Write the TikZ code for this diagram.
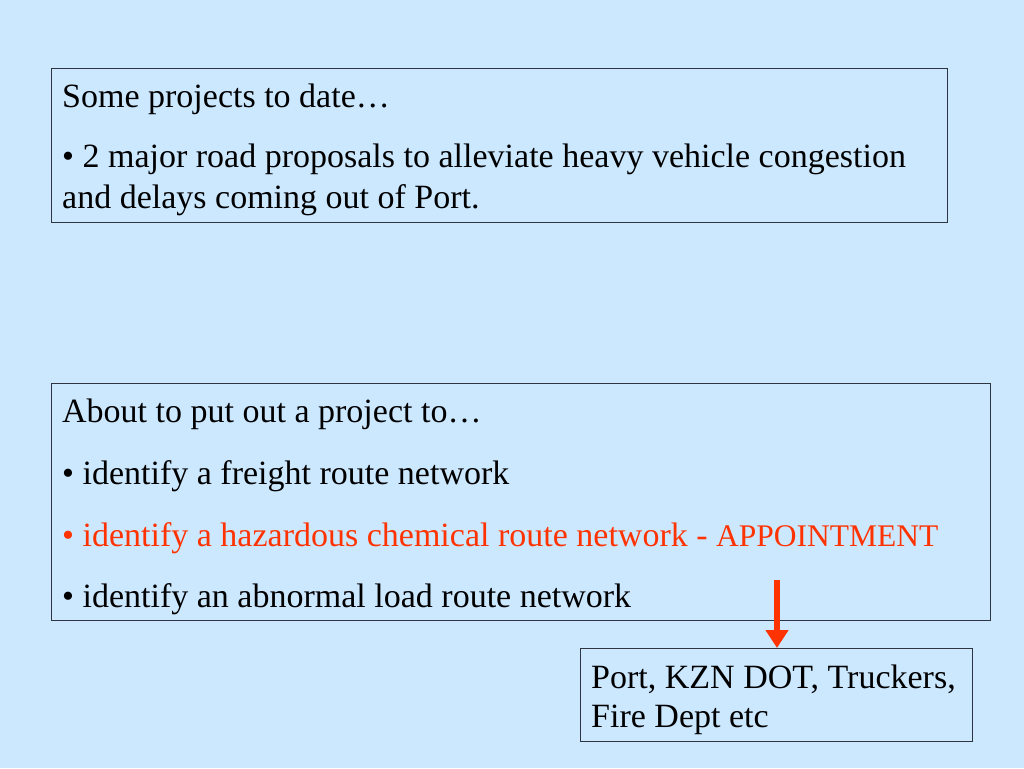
\documentclass[tikz,border=0pt]{standalone}
\usepackage{fontspec}
\setmainfont{Liberation Serif}
\usetikzlibrary{arrows.meta}
\definecolor{bg}{HTML}{CCE8FF}
\definecolor{boxline}{HTML}{2E3440}
\definecolor{hot}{HTML}{FF3300}
\begin{document}
\begin{tikzpicture}[x=1pt,y=-1pt,
  panel/.style={draw=boxline,line width=1pt,fill=none,inner sep=0pt,anchor=north west},
  txt/.style={anchor=base west,inner sep=0pt,font=\fontsize{34}{41}\selectfont}]
\fill[bg] (0,0) rectangle (1024,768);
\useasboundingbox (0,0) rectangle (1024,768);
\node[panel,minimum width=896pt,minimum height=154pt] (box1) at (51,68) {};
\node[panel,minimum width=939pt,minimum height=237pt] (box2) at (51,383) {};
\node[panel,minimum width=392pt,minimum height=93pt] (box3) at (580,648) {};
\node[txt] (t1) at (62,107) {Some projects to date…};
\node[txt] (t2) at (62,167) {• 2 major road proposals to alleviate heavy vehicle congestion};
\node[txt] (t3) at (62,208) {and delays coming out of Port.};
\node[txt] (t4) at (62,422) {About to put out a project to…};
\node[txt] (t5) at (62,484) {• identify a freight route network};
\node[txt,text=hot] (t6) at (62,546) {• identify a hazardous chemical route network - {\fontsize{31.5}{36}\selectfont APPOINTMENT}};
\node[txt] (t7) at (62,607) {• identify an abnormal load route network};
\node[txt] (t8) at (591,688) {Port, KZN DOT, Truckers,};
\node[txt] (t9) at (591,727) {Fire Dept etc};
\coordinate (astart) at (777,580);
\draw[hot,line width=6pt,-{Triangle[width=22pt,length=18pt]}] (astart) -- (astart |- box3.north);
\end{tikzpicture}
\end{document}
